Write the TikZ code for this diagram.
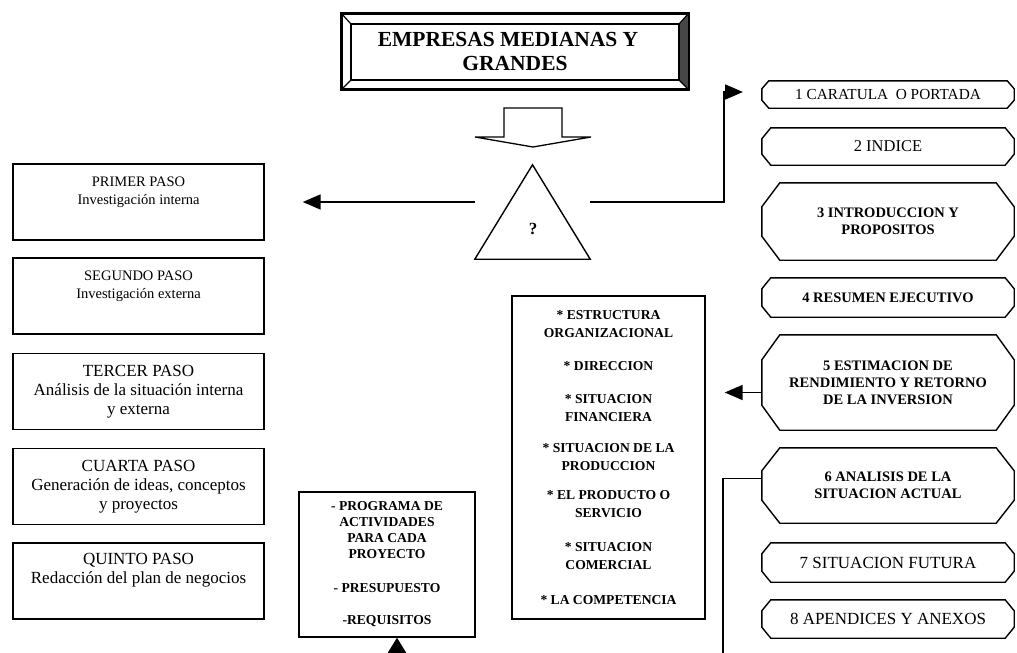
\documentclass[tikz,border=0pt]{standalone}
\usepackage{fontspec}
\setmainfont{Liberation Serif}
\usetikzlibrary{calc,arrows.meta}
\newcommand\fsA{\fontsize{14.5}{17.5}\selectfont}
\newcommand\fsB{\fontsize{17}{19}\selectfont}
\newcommand\fsC{\fontsize{15.3}{17}\selectfont}
\newcommand\fsR{\fontsize{17}{19}\selectfont}
\newcommand\fsK{\fontsize{14.5}{17}\selectfont\bfseries}
\newcommand\fsD{\fontsize{13.6}{18}\selectfont\bfseries}
\newcommand\fsE{\fontsize{13.6}{16}\selectfont\bfseries}
\newcommand\chamfbox[3]{\draw[line width=1.4pt, line join=miter] ([xshift=#2]#1.north west) -- ([xshift=-#2]#1.north east) -- ([yshift=-#3]#1.north east) -- ([yshift=#3]#1.south east) -- ([xshift=-#2]#1.south east) -- ([xshift=#2]#1.south west) -- ([yshift=#3]#1.south west) -- ([yshift=-#3]#1.north west) -- cycle;}
\begin{document}
\begin{tikzpicture}[x=1pt,y=-1pt,
  box/.style={draw, line width=1.4pt, inner sep=0pt, align=center},
  lbox/.style={box, minimum width=251pt, minimum height=76pt},
  rbox/.style={inner sep=0pt, align=center, minimum width=252pt},
  arr/.style={line width=1.8pt, -{Triangle[length=18pt,width=15pt]}}]
\useasboundingbox (0,0) rectangle (1017,653);
\fill[white] (0,0) rectangle (1017,653);
\clip (0,0) rectangle (1017,653);

% title
\node[draw, line width=2pt, minimum width=346pt, minimum height=75pt, inner sep=0pt,
  font=\fontsize{21.5}{24}\selectfont\bfseries, align=center] (title) at (515,51.5)
  {EMPRESAS MEDIANAS Y\hspace*{14pt}\\GRANDES};
\coordinate (ti1) at ($(title.north west)+(10,11)$);
\coordinate (ti2) at ($(title.north east)+(-10,11)$);
\coordinate (ti3) at ($(title.south east)+(-10,-10)$);
\coordinate (ti4) at ($(title.south west)+(10,-10)$);
\fill[black!72] (title.north east) -- (ti2) -- (ti3) -- (title.south east) -- cycle;
\draw[line width=2pt] (title.north west) rectangle (title.south east);
\draw[line width=1.4pt] (ti1) rectangle (ti3);
\draw[line width=1.2pt] (title.north west) -- (ti1) (title.north east) -- (ti2)
  (title.south east) -- (ti3) (title.south west) -- (ti4);

% block arrow
\draw[line width=1.3pt, line join=miter] (504,108) -- (562,108) -- (562,137) -- (591,137)
  -- (533,147) -- (475,137) -- (504,137) -- cycle;

% triangle
\node[minimum width=115pt, minimum height=94pt, inner sep=0pt] (tri) at (532.5,212) {};
\draw[line width=1.4pt, line join=miter] (tri.north) -- (tri.south east) -- (tri.south west) -- cycle;
\node[font=\fontsize{17}{17}\selectfont\bfseries] (q) at (533,229) {?};

% left steps
\node[lbox, font=\fsA] (p1) at (138.5,202) {PRIMER PASO\\Investigación interna\\\strut};
\node[lbox, font=\fsA] (p2) at (138.5,296) {SEGUNDO PASO\\Investigación externa\\\strut};
\node[lbox, font=\fsB] (p3) at (138.5,391.5) {TERCER PASO\\Análisis de la situación interna\\y externa};
\node[lbox, font=\fsB] (p4) at (138.5,486.5) {CUARTA PASO\\Generación de ideas, conceptos\\y proyectos};
\node[lbox, font=\fsB] (p5) at (138.5,581) {QUINTO PASO\\Redacción del plan de negocios\\\strut};

% right boxes
\node[rbox, minimum height=27pt, font=\fsC] (b1) at (888,94.5) {1 CARATULA\ \ O PORTADA};
\node[rbox, minimum height=37pt, font=\fontsize{16.5}{18}\selectfont] (b2) at (888,146.5) {2 INDICE};
\node[rbox, minimum height=77pt, font=\fsK] (b3) at (888,221.5) {3 INTRODUCCION Y\\PROPOSITOS};
\node[rbox, minimum height=39pt, font=\fsK] (b4) at (888,297.5) {4 RESUMEN EJECUTIVO};
\node[rbox, minimum height=95pt, font=\fsK] (b5) at (888,382.5) {5 ESTIMACION DE\\RENDIMIENTO Y RETORNO\\DE LA INVERSION};
\node[rbox, minimum height=75pt, font=\fsK] (b6) at (888,485.5) {6 ANALISIS DE LA\\SITUACION ACTUAL};
\node[rbox, minimum height=39pt, font=\fsR] (b7) at (888,562.5) {7 SITUACION FUTURA};
\node[rbox, minimum height=38pt, font=\fsR] (b8) at (888,619) {8 APENDICES Y ANEXOS};
\chamfbox{b1}{7}{8}
\chamfbox{b2}{9}{11}
\chamfbox{b3}{18}{24}
\chamfbox{b4}{9}{11}
\chamfbox{b5}{18}{25}
\chamfbox{b6}{18}{23}
\chamfbox{b7}{9}{11}
\chamfbox{b8}{9}{11}

% middle boxes
\node[box, minimum width=193pt, minimum height=323pt, font=\fsD] (bul) at (608.5,457.5)
  {* ESTRUCTURA\\ORGANIZACIONAL\\[15pt]* DIRECCION\\[15pt]* SITUACION\\FINANCIERA\\[13pt]* SITUACION DE LA\\PRODUCCION\\[11pt]* EL PRODUCTO O\\SERVICIO\\[16pt]* SITUACION\\COMERCIAL\\[17pt]* LA COMPETENCIA};
\node[box, minimum width=176pt, minimum height=145pt, font=\fsE] (prog) at (387,564.5)
  {- PROGRAMA DE\\ACTIVIDADES\\PARA CADA\\PROYECTO\\[18pt]- PRESUPUESTO\\[16pt]-REQUISITOS};

% connectors
\coordinate (tw) at ([yshift=10]tri.west);
\coordinate (te) at ([yshift=10]tri.east);
\draw[arr, shorten >=38pt] (tw) -- (tw -| p1.east);
\coordinate (k1) at (724,92);
\coordinate (r1) at (743,92);
\draw[arr] (te) -| (k1) -- (r1);
\coordinate (b5w) at ([yshift=-10]b5.west);
\draw[arr, shorten >=19pt] (b5w) -- (b5w -| bul.east);
\coordinate (b6w) at ([yshift=7]b6.west);
\coordinate (k6) at (723,672);
\draw[line width=1.8pt, -{Triangle[length=20pt,width=24pt]}] (b6w) -| (k6) -| ([xshift=10]prog.south);
\end{tikzpicture}
\end{document}
